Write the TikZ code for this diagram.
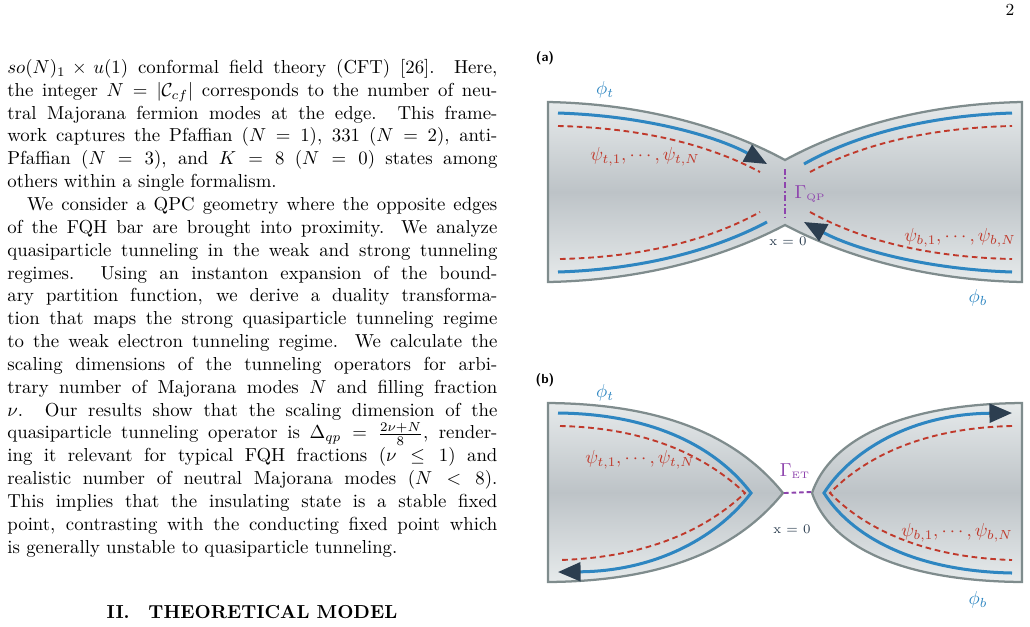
\documentclass[tikz,border=0pt]{standalone}
\usetikzlibrary{arrows.meta}
\definecolor{edgeblue}{HTML}{2E86C1}
\definecolor{psired}{HTML}{C0392B}
\definecolor{navy}{HTML}{2C3E50}
\definecolor{outl}{HTML}{7F8C8D}
\definecolor{gpur}{HTML}{8E44AD}
\definecolor{lightg}{HTML}{E6EAEB}
\definecolor{midg}{HTML}{BDC3C7}
\begin{document}
\begin{tikzpicture}[x=0.532pt,y=-0.532pt,
  body/.style={draw=outl,line width=1.2pt,top color=lightg,bottom color=lightg,middle color=midg},
  blue/.style={draw=edgeblue,line width=1.6pt},
  red/.style={draw=psired,line width=1pt,dash pattern=on 3pt off 2pt},
  tip/.style={-{Triangle[length=12pt,width=10pt,color=navy]}},
  lab/.style={font=\bfseries\sffamily\scriptsize},
  pl/.style={text=psired},
  bl/.style={text=edgeblue}]
\useasboundingbox (0,0) rectangle (1030,626);
\node (pg) at (1010,10) {\small 2};
\node[anchor=north west,text width=260.7pt,align=justify,inner sep=0pt] (txt) at (7,59) {%
\setlength{\parindent}{10.5pt}\baselineskip=12.15pt\noindent
$so(N)_1\times u(1)$ conformal field theory (CFT) [26]. Here,\linebreak
the integer $N=|\mathcal{C}_{cf}|$ corresponds to the number of neu-\linebreak
tral Majorana fermion modes at the edge. This frame-\linebreak
work captures the Pfaffian ($N=1$), 331 ($N=2$), anti-\linebreak
Pfaffian ($N=3$), and $K=8$ ($N=0$) states among\linebreak
others within a single formalism.\par
We consider a QPC geometry where the opposite edges\linebreak
of the FQH bar are brought into proximity. We analyze\linebreak
quasiparticle tunneling in the weak and strong tunneling\linebreak
regimes. Using an instanton expansion of the bound-\linebreak
ary partition function, we derive a duality transforma-\linebreak
tion that maps the strong quasiparticle tunneling regime\linebreak
to the weak electron tunneling regime. We calculate the\linebreak
scaling dimensions of the tunneling operators for arbi-\linebreak
trary number of Majorana modes $N$ and filling fraction\linebreak
$\nu$. Our results show that the scaling dimension of the\linebreak
quasiparticle tunneling operator is $\Delta_{qp}=\frac{2\nu+N}{8}$, render-\linebreak
ing it relevant for typical FQH fractions ($\nu\leq1$) and\linebreak
realistic number of neutral Majorana modes ($N<8$).\linebreak
This implies that the insulating state is a stable fixed\linebreak
point, contrasting with the conducting fixed point which\linebreak
is generally unstable to quasiparticle tunneling.\par};
\node (sec) at (252,612) {\bfseries II.\quad THEORETICAL MODEL};
% ---------- (a)
\node[lab] (la) at (545,58) {(a)};
\path[body] (548,102) .. controls (650,104) and (730,130) .. (785,160)
  .. controls (840,130) and (920,104) .. (1022,102) -- (1022,282)
  .. controls (920,280) and (840,254) .. (785,225)
  .. controls (730,254) and (650,280) .. (548,282) -- cycle;
\draw[blue,tip] (558,113) .. controls (650,116) and (720,138) .. (767,164);
\draw[blue] (804,164) .. controls (850,138) and (920,116) .. (1012,113);
\draw[blue] (558,272) .. controls (650,269) and (720,247) .. (767,222);
\draw[blue,tip] (1012,272) .. controls (920,269) and (850,247) .. (804,222);
\draw[red] (558,126) .. controls (650,128) and (715,148) .. (760,172);
\draw[red] (810,172) .. controls (855,148) and (920,128) .. (1012,126);
\draw[red] (560,259) .. controls (650,257) and (715,237) .. (760,212);
\draw[red] (810,212) .. controls (855,237) and (920,257) .. (1012,259);
\coordinate (qa) at (785,169); \coordinate (qb) at (785,217);
\draw[gpur,line width=1pt,dash pattern=on 3pt off 1.5pt on 1pt off 1.5pt] (qa) -- (qb);
\node[text=gpur] (gq) at (810,194) {$\Gamma_{\mathrm{\scriptscriptstyle QP}}$};
\node[text=navy,font=\scriptsize] (xa) at (788,241) {x = 0};
\node[pl] (pta) at (645,157) {$\psi_{t,1},\cdots,\psi_{t,N}$};
\node[pl] (pba) at (960,238) {$\psi_{b,1},\cdots,\psi_{b,N}$};
\node[bl] (fta) at (605,90) {$\phi_t$};
\node[bl] (fba) at (978,298) {$\phi_b$};
% ---------- (b)
\node[lab] (lb) at (545,380) {(b)};
\path[body] (548,403) .. controls (670,404) and (740,440) .. (783,493)
  .. controls (740,546) and (670,581) .. (548,582) -- cycle;
\path[body] (1022,403) .. controls (900,404) and (830,440) .. (812,493)
  .. controls (830,546) and (900,581) .. (1022,582) -- cycle;
\draw[blue,tip] (558,413) .. controls (660,414) and (720,452) .. (751,493)
  .. controls (720,534) and (660,571) .. (558,572);
\draw[blue,tip] (1012,573) .. controls (910,571) and (850,534) .. (824,493)
  .. controls (850,452) and (910,414) .. (1012,413);
\draw[red] (560,426) .. controls (660,428) and (715,465) .. (745,493)
  .. controls (715,521) and (660,557) .. (560,560);
\draw[red] (1012,426) .. controls (912,428) and (857,465) .. (830,493)
  .. controls (857,521) and (912,557) .. (1012,560);
\coordinate (ea) at (784,493); \coordinate (eb) at (811,492);
\draw[gpur,line width=1pt,dash pattern=on 2.5pt off 1.5pt] (ea) -- (eb);
\node[text=gpur] (ge) at (795,471) {$\Gamma_{\mathrm{\scriptscriptstyle ET}}$};
\node[text=navy,font=\scriptsize] (xb) at (792,529) {x = 0};
\node[pl] (ptb) at (640,460) {$\psi_{t,1},\cdots,\psi_{t,N}$};
\node[pl] (pbb) at (957,533) {$\psi_{b,1},\cdots,\psi_{b,N}$};
\node[bl] (ftb) at (605,393) {$\phi_t$};
\node[bl] (fbb) at (978,600) {$\phi_b$};
\end{tikzpicture}
\end{document}
